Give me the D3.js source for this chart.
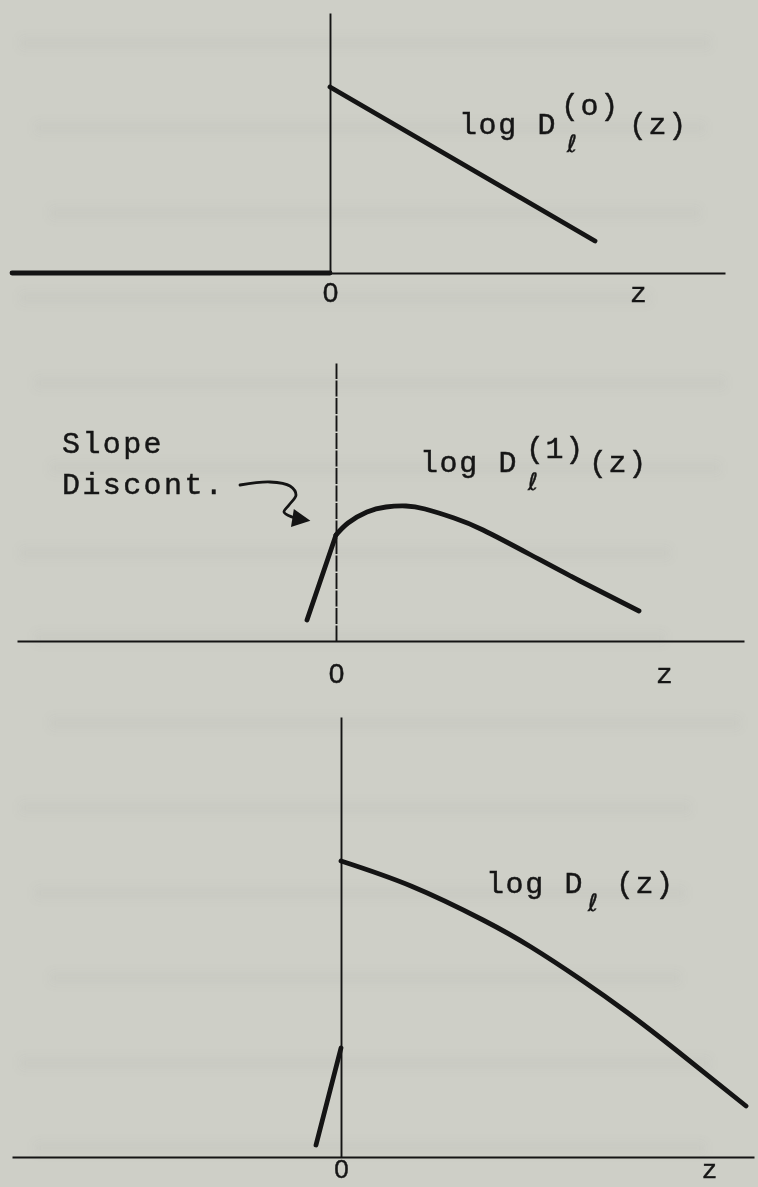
<!DOCTYPE html>
<html>
<head>
<meta charset="utf-8">
<script src="https://cdn.jsdelivr.net/npm/d3@7"></script>
<style>
  html, body { margin: 0; padding: 0; background: #cecfc7; }
  svg { display: block; }
  text { font-family: "Liberation Mono", "DejaVu Sans Mono", monospace; fill: #161616; }
</style>
</head>
<body>
<svg id="chart" width="758" height="1187"></svg>
<script>
// ---- data (z in arbitrary units, 0 at the origin; values are log D) ----
// Panel 1: log D^(0)
const d0NegZ = [-3.18, 0];
const d0NegV = [0, 0];
const d0Z = [0, 2.65];
const d0V = [1.86, 0.32];

// Panel 2: log D^(1)
const d1NegZ = [-0.29, 0];
const d1NegV = [0.21, 1.06];
const d1Z = [0, 0.12, 0.31, 0.50, 0.70, 0.89, 1.18, 1.47, 1.95, 2.44, 3.03];
const d1V = [1.06, 1.18, 1.29, 1.34, 1.35, 1.32, 1.23, 1.11, 0.86, 0.60, 0.30];

// Panel 3: log D (sum)
const dNegZ = [-0.25, 0];
const dNegV = [0.12, 1.09];
const dZ = [0, 0.70, 1.42, 1.90, 2.39, 2.87, 3.35, 4.05];
const dV = [2.96, 2.71, 2.37, 2.10, 1.78, 1.44, 1.07, 0.51];

// Slope-discontinuity pointer (panel 2 units)
const arrowZ = [-0.96, -0.66, -0.46, -0.40, -0.47, -0.52, -0.44, -0.31];
const arrowV = [1.56, 1.59, 1.55, 1.46, 1.36, 1.29, 1.24, 1.21];

// Axis tick labels: origin and the z axis name
const tickLabels = ["0", "z"];
const zLabelPos = [3.08, 3.28, 3.68];
const curveNames = ["(o)", "(1)", ""];
const noteLines = ["Slope", "Discont."];

// ---- layout ----
const svg = d3.select("#chart");
const ink = "#141414";
const textStroke = 0.45;

const panels = [
  { zDom: [-3.18, 3.95], xr: [12, 725], vTop: 2.60, yr: [273, 13], labOff: 29, labSize: 28, axisDash: null,
    lab: { x: 459, y: 134, supDx: 102, supDy: -19, subDx: 108, subDy: 18, zDx: 170 } },
  { zDom: [-3.19, 4.08], xr: [17, 744], vTop: 2.78, yr: [641, 363], labOff: 42, labSize: 28, axisDash: "16,1.5",
    lab: { x: 420, y: 472, supDx: 106, supDy: -14, subDx: 108, subDy: 18, zDx: 169 } },
  { zDom: [-3.29, 4.13], xr: [12, 754], vTop: 4.40, yr: [1157, 717], labOff: 21, labSize: 26, axisDash: null,
    lab: { x: 486, y: 893, supDx: 0, supDy: 0, subDx: 102, subDy: 18, zDx: 130 } }
];

// faint horizontal streaks in the paper
const defs = svg.append("defs");
defs.append("filter").attr("id", "soft").append("feGaussianBlur").attr("stdDeviation", 4);
const streakY = d3.range(43, 1187, 85);
svg.append("g").attr("filter", "url(#soft)")
  .selectAll("rect").data(streakY).join("rect")
  .attr("x", (d, i) => 20 + (i % 3) * 15)
  .attr("width", (d, i) => 690 - (i % 4) * 20)
  .attr("y", d => d - 6).attr("height", 12)
  .attr("fill", "#9a9b94").attr("opacity", 0.08);

// arrowhead marker
defs.append("marker").attr("id", "head")
  .attr("viewBox", "0 0 10 10").attr("refX", 7).attr("refY", 5)
  .attr("markerWidth", 8.5).attr("markerHeight", 6.5).attr("orient", "auto")
  .attr("markerUnits", "strokeWidth")
  .append("path").attr("d", "M0,0 L10,5 L0,10 Z").attr("fill", ink);

const zip = (zs, vs) => zs.map((z, i) => ({ z, v: vs[i] }));
const series = [
  [zip(d0NegZ, d0NegV), zip(d0Z, d0V)],
  [zip(d1NegZ, d1NegV), zip(d1Z, d1V)],
  [zip(dNegZ, dNegV), zip(dZ, dV)]
];

const heavy = sel => sel.attr("stroke", "#161616").attr("stroke-width", textStroke);

panels.forEach((p, k) => {
  const x = d3.scaleLinear().domain(p.zDom).range(p.xr);
  const y = d3.scaleLinear().domain([0, p.vTop]).range(p.yr);
  const g = svg.append("g");

  // horizontal z axis with "0" and "z" labels
  const xAxis = d3.axisBottom(x)
    .tickValues([0, zLabelPos[k]])
    .tickFormat((d, i) => tickLabels[i])
    .tickSize(0).tickSizeOuter(0);
  const gx = g.append("g").attr("transform", `translate(0,${y(0)})`).call(xAxis);
  gx.select(".domain").attr("stroke", ink).attr("stroke-width", 2);
  gx.selectAll("text").attr("y", p.labOff).attr("dy", 0)
    .attr("font-size", p.labSize).attr("fill", "#161616")
    .style("font-family", (d, i) => i === 0
      ? "'Liberation Sans Narrow', 'Liberation Sans', sans-serif"
      : "'Liberation Mono', 'DejaVu Sans Mono', monospace")
    .call(heavy);

  // vertical axis at z = 0
  const yAxis = d3.axisLeft(y).tickValues([]).tickSizeOuter(0);
  const gy = g.append("g").attr("transform", `translate(${x(0)},0)`).call(yAxis);
  gy.select(".domain").attr("stroke", ink).attr("stroke-width", 1.9)
    .attr("stroke-dasharray", p.axisDash);

  // curves
  const line = d3.line().x(d => x(d.z)).y(d => y(d.v)).curve(d3.curveNatural);
  g.selectAll("path.curve").data(series[k]).join("path")
    .attr("class", "curve")
    .attr("d", line)
    .attr("fill", "none").attr("stroke", ink)
    .attr("stroke-width", 4.8).attr("stroke-linecap", "round").attr("stroke-linejoin", "round");

  // curve label: log D_l^(n)(z)
  const L = p.lab;
  const lg = g.append("g").attr("font-size", 30).attr("letter-spacing", 1.6);
  lg.append("text").attr("x", L.x).attr("y", L.y).text("log D").call(heavy);
  if (curveNames[k]) {
    lg.append("text").attr("x", L.x + L.supDx).attr("y", L.y + L.supDy).text(curveNames[k]).call(heavy);
  }
  lg.append("text").attr("x", L.x + L.subDx).attr("y", L.y + L.subDy)
    .attr("font-size", 24).attr("letter-spacing", 0)
    .style("font-family", "'DejaVu Sans', sans-serif").text("\u2113").call(heavy);
  lg.append("text").attr("x", L.x + L.zDx).attr("y", L.y).text("(z)").call(heavy);

  // annotation on the second panel
  if (k === 1) {
    const note = g.append("text").attr("font-size", 30).attr("letter-spacing", 2.4).call(heavy);
    noteLines.forEach((t, i) => {
      note.append("tspan").attr("x", 62).attr("y", 453 + i * 41).text(t);
    });
    const arrowLine = d3.line().x(d => x(d.z)).y(d => y(d.v)).curve(d3.curveCatmullRom);
    g.append("path").datum(zip(arrowZ, arrowV))
      .attr("d", arrowLine)
      .attr("fill", "none").attr("stroke", ink).attr("stroke-width", 2.8)
      .attr("stroke-linecap", "round")
      .attr("marker-end", "url(#head)");
  }
});
</script>
</body>
</html>
